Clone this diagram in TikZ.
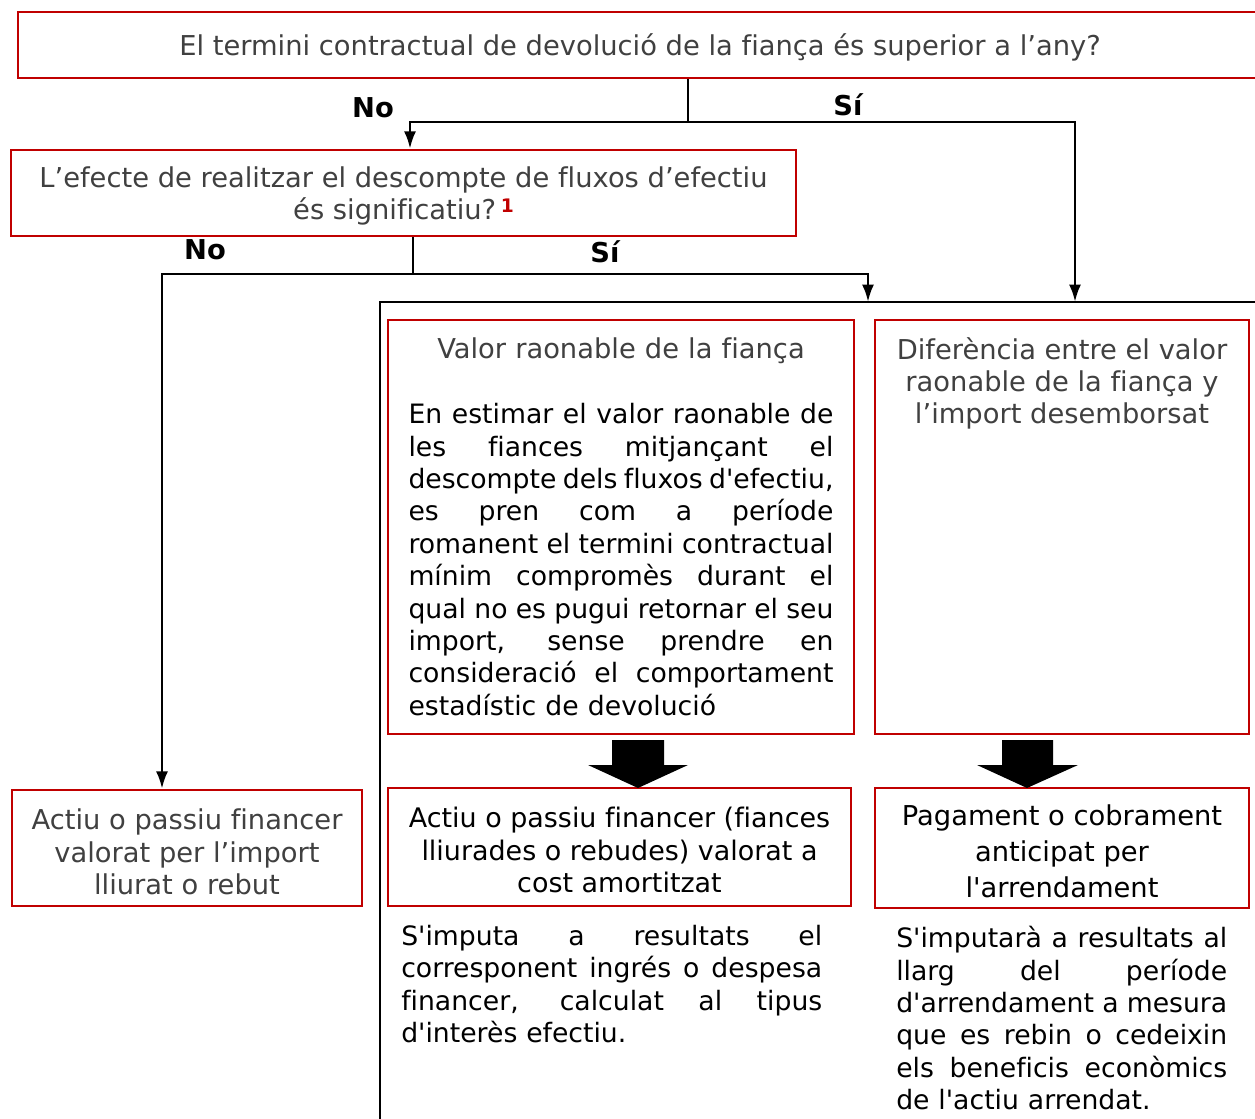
\documentclass[tikz,border=0pt]{standalone}
\usepackage{fontspec}
\setmainfont{DejaVu Sans}[Ligatures={TeXOff,NoCommon}]
\usetikzlibrary{arrows.meta,calc}

\definecolor{boxred}{HTML}{C00000}
\definecolor{headgray}{HTML}{404040}
\newcommand\pxl{0.75pt}
% one justified line of a paragraph
\newcommand\jl[1]{{\spaceskip=.318em plus 1fil minus .12em\makebox[\linewidth][s]{#1}}}

\tikzset{
  boxfont/.style={font=\fontsize{20.5}{24.3}\selectfont},
  redbox/.style={draw=boxred, line width=1.8pt, inner sep=0pt, align=center},
  flow/.style={line width=2.1pt, -{Latex[length=13pt,width=9pt]}},
  stem/.style={line width=0.8pt},
  frameline/.style={line width=1.5pt},
  yesno/.style={font=\fontsize{20.5}{24.3}\selectfont\bfseries, inner sep=0pt},
  bodytext/.style={inner sep=0pt, align=left, anchor=north west, font=\fontsize{20}{24.3}\selectfont},
}

\begin{document}
\begin{tikzpicture}[x=0.75pt, y=-0.75pt, boxfont]
  \clip (0,0) rectangle (1255,1119);

  % questions
  \node[redbox, text=headgray, text depth=0pt, minimum width=1244*\pxl, minimum height=66*\pxl] (termini) at (640,45)
    {El termini contractual de devolució de la fiança és superior a l’any?};
  \node[redbox, text=headgray, text depth=0pt, minimum width=785*\pxl, minimum height=86*\pxl] (signif) at (403.5,193)
    {L’efecte de realitzar el descompte de fluxos d’efectiu\\és significatiu?\,\textcolor{boxred}{\raisebox{5pt}{\fontsize{14}{14}\selectfont\bfseries 1}}};

  % middle row
  \node[redbox, minimum width=466*\pxl, minimum height=414*\pxl, text width=425*\pxl, align=left] (valor) at (621,527)
    {\makebox[\linewidth][c]{\color{headgray}Valor raonable de la fiança}\\[24.3pt]
     \fontsize{20}{24.3}\selectfont
     \jl{En estimar el valor raonable de}\\
     \jl{les fiances mitjançant el}\\
     \jl{descompte dels fluxos d'efectiu,}\\
     \jl{es pren com a període}\\
     \jl{romanent el termini contractual}\\
     \jl{mínim compromès durant el}\\
     \jl{qual no es pugui retornar el seu}\\
     \jl{import, sense prendre en}\\
     \jl{consideració el comportament}\\
     estadístic de devolució};
  \node[redbox, minimum width=374*\pxl, minimum height=414*\pxl] (difer) at (1062,527) {};
  \node[inner sep=0pt, align=center, text=headgray, anchor=north] (diferlbl) at (1062,337)
    {Diferència entre el valor\\raonable de la fiança y\\l’import desemborsat};

  % results
  \node[redbox, text=headgray, minimum width=350*\pxl, minimum height=116*\pxl] (actiuimp) at (187,848)
    {\rule{0pt}{21.5pt}Actiu o passiu financer\\valorat per l’import\\lliurat o rebut};
  \node[redbox, minimum width=463*\pxl, minimum height=118*\pxl, font=\fontsize{20.2}{24.3}\selectfont] (actiufin) at (619.5,847)
    {\rule{0pt}{20pt}Actiu o passiu financer (fiances\\lliurades o rebudes) valorat a\\cost amortitzat};
  \node[redbox, minimum width=374*\pxl, minimum height=120*\pxl, font=\fontsize{20.5}{27}\selectfont] (pagament) at (1062,848)
    {\rule{0pt}{20pt}Pagament o cobrament\\anticipat per\\l'arrendament};

  % notes
  \node[bodytext, text width=421*\pxl] (imputa) at (401,925)
    {\jl{S'imputa a resultats el}\\
     \jl{corresponent ingrés o despesa}\\
     \jl{financer, calculat al tipus}\\
     d'interès efectiu.};
  \node[bodytext, text width=331*\pxl] (imputara) at (896,926)
    {\jl{S'imputarà a resultats al}\\
     \jl{llarg del període}\\
     \jl{d'arrendament a mesura}\\
     \jl{que es rebin o cedeixin}\\
     \jl{els beneficis econòmics}\\
     de l'actiu arrendat.};

  % yes / no labels
  \node[yesno] (no1) at (373,108) {No};
  \node[yesno] (si1) at (848,105) {Sí};
  \node[yesno] (no2) at (205,250) {No};
  \node[yesno] (si2) at (605,252) {Sí};

  % frame round the "Sí" branch
  \coordinate (frameA) at (868,302);
  \coordinate (frameB) at (1075,302);
  \draw[frameline] (380,1130) -- (380,302) -- (1265,302);

  % connectors
  \coordinate (splitA) at (688,122);
  \coordinate (splitB) at (413,274);
  \draw[stem] (termini.south -| splitA) -- (splitA);
  \draw[flow] (splitA) -| ($(signif.north)+(6.5,0)$);
  \draw[flow] (splitA) -| (frameB);
  \draw[stem] (signif.south -| splitB) -- (splitB);
  \draw[flow] (splitB) -| ($(actiuimp.north)+(-25,0)$);
  \draw[flow] (splitB) -| (frameA);

  % block arrows
  \fill (612,740) -- (664,740) -- (664,765) -- (688,765) -- (638,788)
    -- (588,765) -- (612,765) -- cycle;
  \fill (1002,740) -- (1053,740) -- (1053,765) -- (1078,765) -- (1027,788)
    -- (977,765) -- (1002,765) -- cycle;
\end{tikzpicture}
\end{document}
